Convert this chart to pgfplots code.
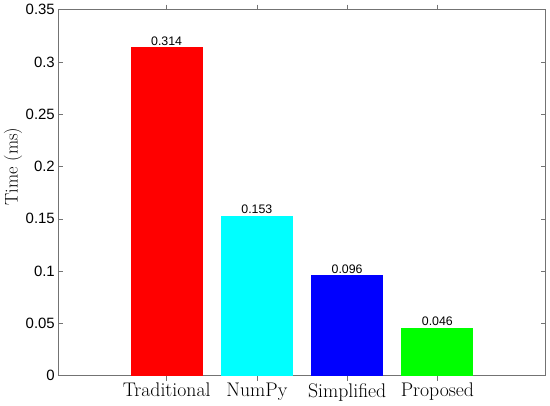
\documentclass[border=0pt]{standalone}
\usepackage{fontspec}
\usepackage{pgfplots}
\pgfplotsset{compat=1.18}
\newfontfamily\hv{Liberation Sans}
\begin{document}
\begin{tikzpicture}
\begin{axis}[
  scale only axis,
  width=487.4bp, height=366bp,
  xmin=-0.2, xmax=5.2,
  ymin=0, ymax=0.35,
  xtick={1,2,3,4},
  xticklabels={Traditional,NumPy,Simplified,Proposed},
  ytick={0,0.05,0.1,0.15,0.2,0.25,0.3,0.35},
  scaled y ticks=false,
  /pgf/number format/assume math mode=true,
  yticklabel style={font=\hv\fontsize{15}{18}\selectfont,/pgf/number format/fixed,/pgf/number format/precision=2},
  xticklabel style={font=\fontsize{19.8}{22}\selectfont, yshift=1bp},
  tick align=inside,
  major tick length=5bp,
  axis line style={draw=black!55, line width=0.6bp},
  every tick/.style={draw=black!55, line width=0.6bp},
  ylabel={Time (ms)},
  ylabel style={font=\fontsize{18.4}{21}\selectfont, at={(axis description cs:-0.093,0.5714)}, anchor=center},
  ybar,
  bar width=0.8,
  nodes near coords,
  every node near coord/.append style={font=\hv\fontsize{12.4}{14}\selectfont, /pgf/number format/fixed, /pgf/number format/precision=3, /pgf/number format/fixed zerofill, inner sep=1.5bp},
]
\addplot[fill={rgb,1:red,1;green,0;blue,0}, draw=none, bar shift=0pt] coordinates {(1,0.314)};
\addplot[fill={rgb,1:red,0;green,1;blue,1}, draw=none, bar shift=0pt] coordinates {(2,0.153)};
\addplot[fill={rgb,1:red,0;green,0;blue,1}, draw=none, bar shift=0pt] coordinates {(3,0.096)};
\addplot[fill={rgb,1:red,0;green,1;blue,0}, draw=none, bar shift=0pt] coordinates {(4,0.046)};
\end{axis}
\pgfresetboundingbox
\path ([xshift=-58.3bp,yshift=-30.3bp]current axis.south west) rectangle ([xshift=4.3bp,yshift=9.7bp]current axis.north east);
\end{tikzpicture}
\end{document}
